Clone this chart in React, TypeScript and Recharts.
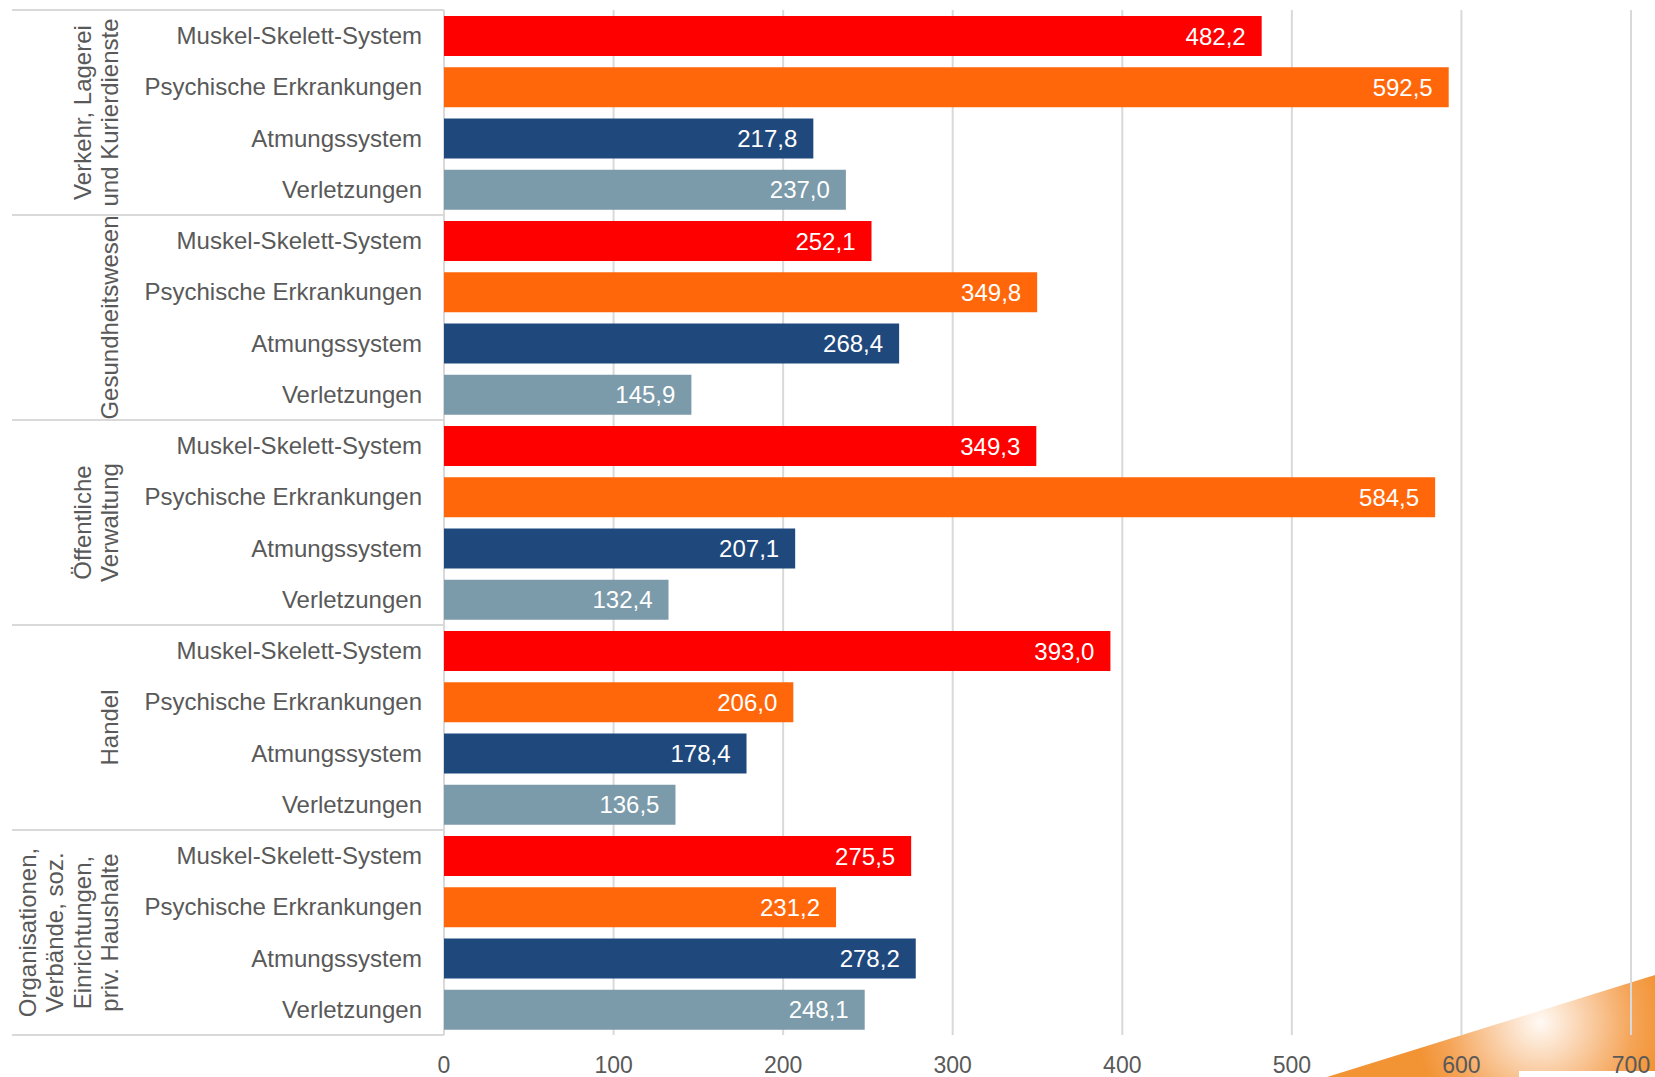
import React from 'react';
import { BarChart, Bar, XAxis, YAxis, CartesianGrid, Cell, LabelList } from 'recharts';

// ---- data ----
const groups: string[][] = [
  ['Verkehr, Lagerei', 'und Kurierdienste'],
  ['Gesundheitswesen'],
  ['Öffentliche', 'Verwaltung'],
  ['Handel'],
  ['Organisationen,', 'Verbände, soz.', 'Einrichtungen,', 'priv. Haushalte'],
];
const diseases = ['Muskel-Skelett-System', 'Psychische Erkrankungen', 'Atmungssystem', 'Verletzungen'];
const verkehr = [482.2, 592.5, 217.8, 237.0];
const gesundheit = [252.1, 349.8, 268.4, 145.9];
const verwaltung = [349.3, 584.5, 207.1, 132.4];
const handel = [393.0, 206.0, 178.4, 136.5];
const organisationen = [275.5, 231.2, 278.2, 248.1];
const seriesByGroup = [verkehr, gesundheit, verwaltung, handel, organisationen];
const xTicks = [0, 100, 200, 300, 400, 500, 600, 700];

// ---- styles ----
const COLORS = ['#FF0000', '#FF670A', '#1F497D', '#7B9AAA'];
const W = 1655;
const H = 1077;
const MARGIN = { top: 10, right: 24, bottom: 0, left: 0 };
const Y_AXIS_W = 444;
const X_AXIS_H = 42;
const PLOT_TOP = MARGIN.top;
const PLOT_BOTTOM = H - MARGIN.bottom - X_AXIS_H;
const TEXT = '#595959';
const LINE = '#d9d9d9';

const data = seriesByGroup.flatMap((vals, g) =>
  vals.map((v, i) => ({ id: `${g}|${i}`, name: diseases[i], di: i, value: v }))
);

const fmt = (v: any) => Number(v).toFixed(1).replace('.', ',');

const YTick = (props: any) => {
  const { x, y, payload } = props;
  const idx = Number(String(payload.value).split('|')[1]);
  return (
    <text x={x} y={y} dy="0.35em" textAnchor="end" fill={TEXT} fontSize={24}>
      {diseases[idx]}
    </text>
  );
};

const XTick = (props: any) => {
  const { x, y, payload } = props;
  return (
    <text x={x} y={y} dy="0.35em" textAnchor="middle" fill={TEXT} fontSize={23}>
      {payload.value}
    </text>
  );
};

export default function App() {
  const gh = (PLOT_BOTTOM - PLOT_TOP) / groups.length;
  return (
    <div
      style={{
        position: 'absolute',
        left: 0,
        top: 0,
        width: W,
        height: H,
        background: '#fff',
        fontFamily: '"Liberation Sans", Arial, Helvetica, sans-serif',
        overflow: 'hidden',
      }}
    >
      {/* decorative wedge (behind chart) */}
      <svg width={W} height={H} style={{ position: 'absolute', left: 0, top: 0 }}>
        <defs>
          <radialGradient id="wg" gradientUnits="userSpaceOnUse" cx={1540} cy={1022} r={125}>
            <stop offset="0%" stopColor="#fffaf5" />
            <stop offset="35%" stopColor="#fad2ad" />
            <stop offset="75%" stopColor="#f5a457" />
            <stop offset="100%" stopColor="#f29334" />
          </radialGradient>
        </defs>
        <polygon points="1327,1077 1655,975 1655,1077" fill="url(#wg)" />
        <rect x={1519} y={1071} width={136} height={6} fill="#fff" />
      </svg>
      <div style={{ position: 'absolute', left: 0, top: 0 }}>
        <BarChart width={W} height={H} data={data} layout="vertical" margin={MARGIN}>
          <CartesianGrid horizontal={false} vertical stroke={LINE} strokeWidth={2} />
          <XAxis
            type="number"
            domain={[0, 700]}
            ticks={xTicks}
            axisLine={false}
            tickLine={false}
            tickSize={0}
            tickMargin={30}
            height={X_AXIS_H}
            tick={<XTick />}
            interval={0}
          />
          <YAxis
            type="category"
            dataKey="id"
            width={Y_AXIS_W}
            axisLine={false}
            tickLine={false}
            tickSize={0}
            tickMargin={22}
            tick={<YTick />}
            interval={0}
          />
          <Bar dataKey="value" barSize={40} isAnimationActive={false}>
            {data.map((d) => (
              <Cell key={d.id} fill={COLORS[d.di]} />
            ))}
            <LabelList
              dataKey="value"
              position="insideRight"
              offset={16}
              fill="#ffffff"
              fontSize={24}
              formatter={fmt}
            />
          </Bar>
        </BarChart>
      </div>
      {/* group separators and labels */}
      <svg width={W} height={H} style={{ position: 'absolute', left: 0, top: 0, pointerEvents: 'none' }}>
        {Array.from({ length: groups.length + 1 }).map((_, i) => (
          <line
            key={'s' + i}
            x1={12}
            x2={Y_AXIS_W}
            y1={PLOT_TOP + i * gh}
            y2={PLOT_TOP + i * gh}
            stroke={LINE}
            strokeWidth={2}
          />
        ))}
        {groups.map((lines, g) => {
          const cy = PLOT_TOP + (g + 0.5) * gh;
          const n = lines.length;
          return lines.map((t, j) => {
            const cx = 110 - (n - 1 - j) * 27.5;
            return (
              <text
                key={g + '-' + j}
                x={cx}
                y={cy}
                dy="0.35em"
                textAnchor="middle"
                fill={TEXT}
                fontSize={24}
                transform={`rotate(-90 ${cx} ${cy})`}
              >
                {t}
              </text>
            );
          });
        })}
      </svg>
    </div>
  );
}
